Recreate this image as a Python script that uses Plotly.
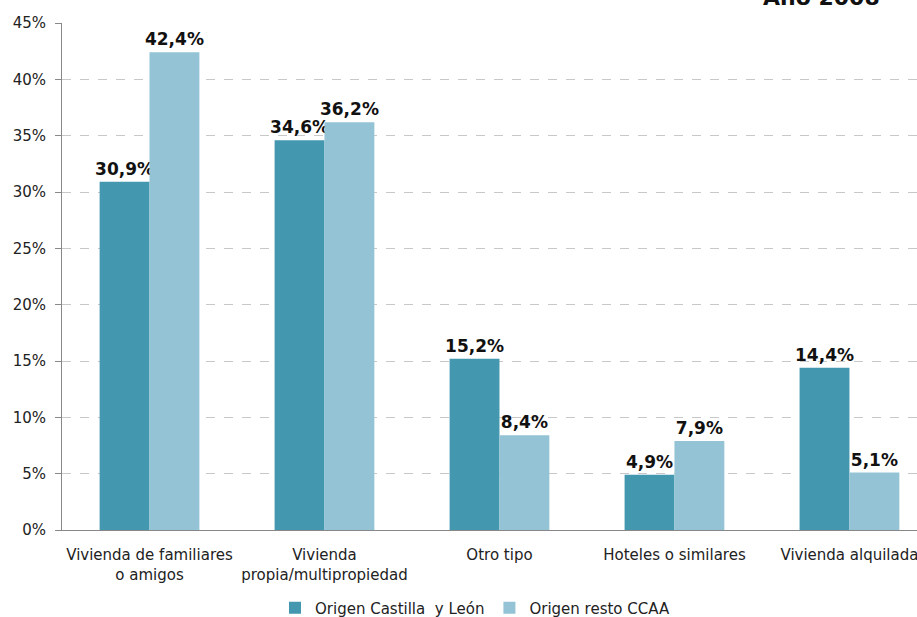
import plotly.graph_objects as go

categories = ["Vivienda de familiares<br>o amigos", "Vivienda<br>propia/multipropiedad",
              "Otro tipo", "Hoteles o similares", "Vivienda alquilada"]
castilla_leon = [30.9, 34.6, 15.2, 4.9, 14.4]
resto_ccaa = [42.4, 36.2, 8.4, 7.9, 5.1]
y_ticks = [0, 5, 10, 15, 20, 25, 30, 35, 40, 45]
y_tick_labels = [f"{v}%" for v in y_ticks]
title_text = "Año 2008"

font_family = "DejaVu Sans, Verdana, sans-serif"

fig = go.Figure()
fig.add_trace(go.Bar(
    x=categories, y=castilla_leon, name="Origen Castilla  y León",
    marker=dict(color="#4397af", line=dict(width=0)),
    texttemplate="<b>%{y:.1f}%</b>", textposition="outside", cliponaxis=False,
    constraintext="none",
    textfont=dict(family=font_family, size=17, color="#111111"),
))
fig.add_trace(go.Bar(
    x=categories, y=resto_ccaa, name="Origen resto CCAA",
    marker=dict(color="#93c3d5", line=dict(width=0)),
    texttemplate="<b>%{y:.1f}%</b>", textposition="outside", cliponaxis=False,
    constraintext="none",
    textfont=dict(family=font_family, size=17, color="#111111"),
))

fig.update_layout(
    width=917, height=617,
    margin=dict(l=62, r=0, t=23, b=87, autoexpand=False),
    paper_bgcolor="white", plot_bgcolor="white",
    separators=",.",
    barmode="group", bargap=0.43, bargroupgap=0,
    font=dict(family=font_family, size=15, color="#222222"),
    showlegend=True,
    legend=dict(orientation="h", x=(475 - 62) / 855, xanchor="center",
                yref="paper", y=-(608 - 530) / 507, yanchor="middle",
                font=dict(size=15), traceorder="normal"),
)
fig.update_xaxes(
    range=[-0.5, 4.386], showgrid=False, showline=True, linecolor="#888888", linewidth=1,
    ticks="", tickfont=dict(size=15, color="#222222"), automargin=False,
    ticklabelstandoff=11,
)
fig.update_yaxes(
    range=[0, 45], tickmode="array", tickvals=y_ticks, ticktext=y_tick_labels,
    showgrid=True, gridcolor="#c8c8c8", griddash="dash", gridwidth=1,
    showline=True, linecolor="#888888", linewidth=1,
    ticks="outside", ticklen=6, tickcolor="#888888",
    tickfont=dict(size=15, color="#222222"), zeroline=False, automargin=False,
    ticklabelstandoff=6,
)
fig.add_annotation(
    text="<b>" + title_text + "</b>", xref="paper", yref="paper",
    x=(882 - 62) / 855, xanchor="right", y=1 + 11 / 507, yanchor="bottom",
    showarrow=False, font=dict(size=22, color="#111111", family=font_family),
)

fig.write_html("out.html", config={"displayModeBar": False},
               post_script="document.body.style.margin='0';")
